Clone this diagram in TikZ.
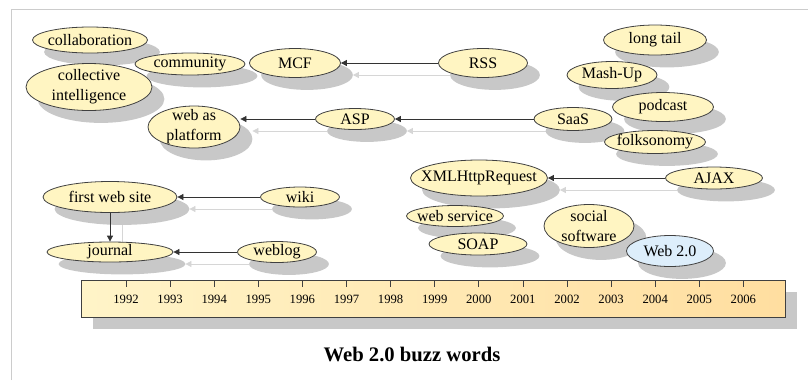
\documentclass[tikz,border=0pt]{standalone}
\usepackage{fontspec}
\setmainfont{Liberation Serif}
\usetikzlibrary{arrows.meta,shapes.geometric,backgrounds,calc}

\definecolor{buzzfill}{HTML}{FFF5C2}
\definecolor{webfill}{HTML}{DDEEFB}
\definecolor{shadowgray}{HTML}{C8C8C8}
\definecolor{arrowshadow}{HTML}{D6D6D6}
\definecolor{framegray}{HTML}{CCCCCC}
\definecolor{barleft}{HTML}{FFF4C8}
\definecolor{barright}{HTML}{FFDEA0}

\begin{document}
\begin{tikzpicture}[x=0.75pt,y=-0.75pt,
    buzz/.style={ellipse, draw=black!75, line width=0.6pt, fill=buzzfill,
      inner xsep=-12pt, inner ysep=-6pt, align=center,
      font=\fontsize{12}{15}\selectfont},
    wh/.style 2 args={minimum width=#1*0.75pt, minimum height=#2*0.75pt},
    link/.style={draw=black!80, line width=0.6pt, -{Triangle[length=4.5pt,width=4.5pt]}},
    linkshadow/.style={draw=arrowshadow, line width=0.6pt, -{Triangle[length=4.5pt,width=4.5pt]},
      transform canvas={shift={(12,12)}}},
    timebar/.style={rectangle, draw=black!75, line width=0.6pt, left color=barleft,
      right color=barright, minimum width=528pt, minimum height=27.75pt},
    year/.style={font=\fontsize{9.5}{11}\selectfont, inner sep=0pt}
  ]
  \useasboundingbox (0,0) rectangle (808,380);
  \draw[framegray, line width=0.75pt] (11,380) -- (11,9) -- (808,9);

  % buzz words
  \node[buzz, wh={115}{26}] (collab) at (90,40) {collaboration};
  \node[buzz, wh={126}{47}] (ci) at (89,87) {collective\\intelligence};
  \node[buzz, wh={110}{22}] (community) at (190,64) {community};
  \node[buzz, wh={91}{29}] (mcf) at (295,63) {MCF};
  \node[buzz, wh={89}{29}] (rss) at (483,63) {RSS};
  \node[buzz, wh={92}{42}] (wap) at (194,127) {web as\\platform};
  \node[buzz, wh={79}{21}] (asp) at (355,119) {ASP};
  \node[buzz, wh={78}{23}] (saas) at (573,119) {SaaS};
  \node[buzz, wh={103}{30}] (longtail) at (655,40) {long tail};
  \node[buzz, wh={90}{27}] (mashup) at (612,75) {Mash-Up};
  \node[buzz, wh={101}{29}] (podcast) at (663,107) {podcast};
  \node[buzz, wh={101}{23}] (folk) at (655,142) {folksonomy};
  \node[buzz, wh={137}{36}] (xhr) at (479,178) {XMLHttpRequest};
  \node[buzz, wh={97}{22}] (ajax) at (714,178) {AJAX};
  \node[buzz, wh={97}{21}] (websvc) at (455,216) {web service};
  \node[buzz, wh={98}{22}] (soap) at (478,244) {SOAP};
  \node[buzz, wh={90}{43}] (social) at (589,226) {social\\software};
  \node[buzz, wh={87}{31}, fill=webfill] (web20) at (670,251) {Web 2.0};
  \node[buzz, wh={134}{31}] (fws) at (110,197) {first web site};
  \node[buzz, wh={79}{20}] (wiki) at (300,197) {wiki};
  \node[buzz, wh={126}{20}] (journal) at (110,252) {journal};
  \node[buzz, wh={79}{21}] (weblog) at (277,252) {weblog};

  % links
  \draw[link] (rss) -- (mcf);
  \draw[link] (saas) -- (asp);
  \draw[link] (asp) -- (asp -| wap.east);
  \draw[link] (ajax) -- (xhr);
  \draw[link] (wiki) -- (fws);
  \draw[link] (weblog) -- (journal);
  \draw[link] (fws) -- (journal);

  % timeline
  \node[timebar] (bar) at (433,298.5) {};
  \foreach \yr [count=\i from 0] in {1992,...,2006} {
    \draw[black!75, line width=0.6pt] (126+44.1*\i,280) -- ++(0,7);
    \node[year] (y\yr) at (126+44.1*\i,299) {\yr};
  }

  \node[font=\bfseries\fontsize{15.5}{18}\selectfont] (caption) at (412,354) {Web 2.0 buzz words};

  % shadows
  \begin{scope}[on background layer]
    \draw[linkshadow] (rss) -- (mcf);
    \draw[linkshadow] (saas) -- (asp);
    \draw[linkshadow] (asp) -- (asp -| wap.east);
    \draw[linkshadow] (ajax) -- (xhr);
    \draw[linkshadow] (wiki) -- (fws);
    \draw[linkshadow] (weblog) -- (journal);
    \draw[linkshadow] (fws) -- (journal);
    \foreach \nd in {collab,ci,community,mcf,rss,wap,asp,saas,longtail,mashup,podcast,
        folk,xhr,ajax,websvc,soap,social,web20,fws,wiki,journal,weblog}
      \fill[shadowgray] let \p1=(\nd.center), \p2=(\nd.east), \p3=(\nd.north) in
        ($(\p1)+(12,12)$) ellipse ({\x2-\x1} and {\y3-\y1});
    \fill[shadowgray] ($(bar.north west)+(12,12)$) rectangle ($(bar.south east)+(12,12)$);
  \end{scope}
\end{tikzpicture}
\end{document}
